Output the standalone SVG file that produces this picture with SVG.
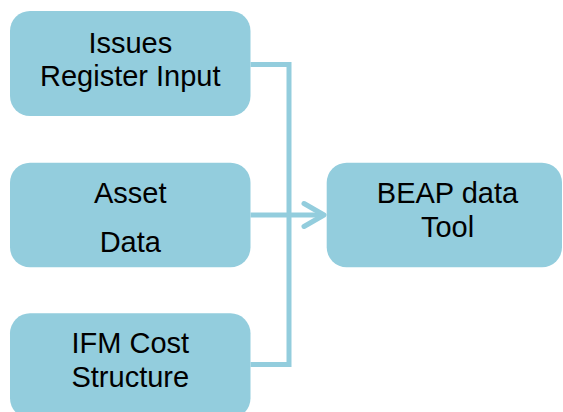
<svg xmlns="http://www.w3.org/2000/svg" width="563" height="412" viewBox="0 0 563 412">
  <style>
    .box { fill: #93CDDD; }
    .label { font-family: "Liberation Sans", Arial, sans-serif; font-size: 29px; fill: #000000; text-anchor: middle; }
    .wire { fill: none; stroke: #93CDDD; stroke-width: 5; }
    .head { fill: none; stroke: #93CDDD; stroke-width: 5; stroke-linecap: round; stroke-linejoin: round; }
  </style>
  <rect width="563" height="412" fill="#FFFFFF"/>

  <!-- connectors: three inputs merge onto a trunk feeding the tool -->
  <g id="connectors">
    <polyline class="wire" points="250.5,64.5 289,64.5 289,364.5 250.5,364.5"/>
    <line class="wire" x1="250.5" y1="215" x2="324" y2="215"/>
    <polyline class="head" points="304,203.5 324,215 304,226.5"/>
  </g>

  <g id="issues-register-input">
    <rect class="box" x="10" y="11" width="240.5" height="105" rx="20"/>
    <text class="label" x="130.3" y="52.7">Issues</text>
    <text class="label" x="130.3" y="86">Register Input</text>
  </g>

  <g id="asset-data">
    <rect class="box" x="10" y="162.7" width="240.5" height="104.6" rx="20"/>
    <text class="label" x="130.3" y="203.3">Asset</text>
    <text class="label" x="130.3" y="251.7">Data</text>
  </g>

  <g id="ifm-cost-structure">
    <rect class="box" x="10" y="313.3" width="240.5" height="105" rx="20"/>
    <text class="label" x="130.3" y="353.3">IFM Cost</text>
    <text class="label" x="130.3" y="386.7">Structure</text>
  </g>

  <g id="beap-data-tool">
    <rect class="box" x="326.7" y="162.7" width="235.3" height="104.6" rx="20"/>
    <text class="label" x="447.5" y="203.3">BEAP data</text>
    <text class="label" x="447.5" y="237">Tool</text>
  </g>
</svg>
